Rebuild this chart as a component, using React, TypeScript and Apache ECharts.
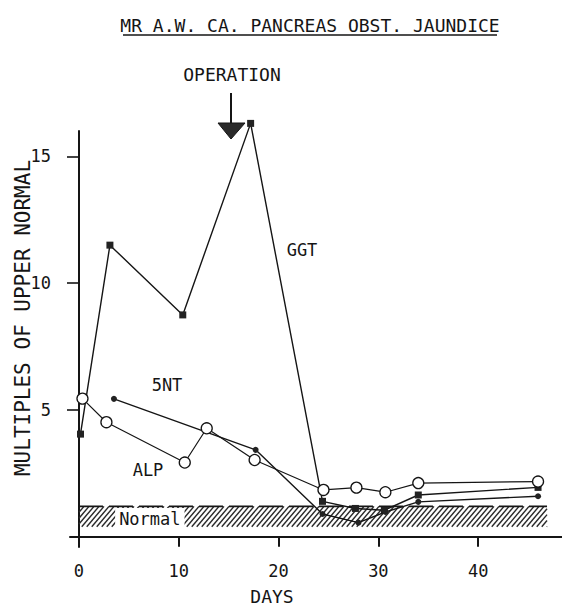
import React, { useEffect, useRef } from 'react';
import * as echarts from 'echarts';

// ---- data ----
const ggtDays = [0.15, 3.1, 10.4, 17.2, 24.4, 27.7, 30.6, 34.0, 46.0];
const ggtValues = [4.05, 11.5, 8.75, 16.3, 1.4, 1.12, 1.05, 1.65, 1.95];

const alpDays = [0.35, 2.75, 10.6, 12.8, 17.6, 24.5, 27.8, 30.7, 34.0, 46.0];
const alpValues = [5.45, 4.52, 2.93, 4.28, 3.03, 1.85, 1.94, 1.76, 2.12, 2.18];

const ntDays = [3.5, 17.7, 24.4, 28.0, 30.7, 34.0, 46.0];
const ntValues = [5.44, 3.43, 0.9, 0.56, 0.98, 1.38, 1.6];

const normalBand = [0, 46.9, 0.4, 1.2]; // day from, day to, low, high

const xTicks = [0, 10, 20, 30, 40];
const yTicks = [5, 10, 15];

const FONT = '"DejaVu Sans Mono", "Liberation Mono", monospace';
const INK = '#151515';

export default function App() {
  const ref = useRef<HTMLDivElement>(null);

  useEffect(() => {
    document.body.style.margin = '0';
    const chart = echarts.init(ref.current as HTMLDivElement, null, { renderer: 'svg' });

    const pairs = (xs: number[], ys: number[]) => xs.map((x, i) => [x, ys[i]]);

    chart.setOption({
      animation: false,
      backgroundColor: '#ffffff',
      grid: { left: 70, right: 0, top: 131, bottom: 59, containLabel: false },
      xAxis: {
        type: 'value',
        min: -0.9,
        max: 48.4,
        splitLine: { show: false },
        axisLine: { onZero: true, lineStyle: { color: INK, width: 2 } },
        axisTick: { customValues: xTicks, length: 10, lineStyle: { color: INK, width: 2 } },
        axisLabel: { customValues: xTicks, margin: 15, fontSize: 17, color: INK, fontFamily: FONT },
      },
      yAxis: {
        type: 'value',
        min: -0.4,
        max: 16,
        splitLine: { show: false },
        axisLine: { show: true, onZero: true, lineStyle: { color: INK, width: 2 } },
        axisTick: { show: true, customValues: yTicks, length: 12, lineStyle: { color: INK, width: 1.6 } },
        axisLabel: { customValues: yTicks, margin: 19, fontSize: 17, color: INK, fontFamily: FONT },
      },
      series: [
        {
          type: 'custom',
          silent: true,
          z: 1,
          encode: { x: [0, 1], y: [2, 3] },
          data: [normalBand],
          renderItem: (params: any, api: any) => {
            const p0 = api.coord([api.value(0), api.value(2)]);
            const p1 = api.coord([api.value(1), api.value(3)]);
            const x0 = p0[0], yb = p0[1], x1 = p1[0], yt = p1[1];
            const h = yb - yt;
            const dx = h * 0.85;
            const children: any[] = [];
            for (let s = x0 - dx; s < x1; s += 5) {
              let ax = s, ay = yb, bx = s + dx, by = yt;
              if (ax < x0) { ay = yb - (x0 - s) * (h / dx); ax = x0; }
              if (bx > x1) { by = yb - (x1 - s) * (h / dx); bx = x1; }
              if (bx > ax) {
                children.push({
                  type: 'line',
                  shape: { x1: ax, y1: ay, x2: bx, y2: by },
                  style: { stroke: '#2a2a2a', lineWidth: 1.4 },
                });
              }
            }
            children.push({
              type: 'line',
              shape: { x1: x0, y1: yt, x2: x1, y2: yt },
              style: { stroke: INK, lineWidth: 1.8, lineDash: [24, 6] },
            });
            const lp = api.coord([7.1, (api.value(2) + api.value(3)) / 2]);
            children.push({
              type: 'text',
              x: lp[0],
              y: lp[1] + 2,
              style: {
                text: 'Normal',
                fill: INK,
                font: `17px ${FONT}`,
                align: 'center',
                verticalAlign: 'middle',
                backgroundColor: '#ffffff',
                padding: [2, 4, 2, 4],
              },
            });
            return { type: 'group', children };
          },
        },
        {
          name: 'GGT',
          type: 'line',
          data: pairs(ggtDays, ggtValues),
          clip: false,
          symbol: 'rect',
          symbolSize: 7,
          z: 3,
          lineStyle: { color: INK, width: 1.4 },
          itemStyle: { color: '#222' },
          emphasis: { disabled: true },
        },
        {
          name: '5NT',
          type: 'line',
          data: pairs(ntDays, ntValues),
          symbol: 'circle',
          symbolSize: 6,
          z: 4,
          lineStyle: { color: INK, width: 1.4 },
          itemStyle: { color: '#222' },
          emphasis: { disabled: true },
        },
        {
          name: 'ALP',
          type: 'line',
          data: pairs(alpDays, alpValues),
          symbol: 'circle',
          symbolSize: 11,
          z: 5,
          lineStyle: { color: INK, width: 1.2 },
          itemStyle: { color: '#ffffff', borderColor: INK, borderWidth: 1.3 },
          emphasis: { disabled: true },
        },
      ],
      graphic: [
        {
          type: 'text',
          x: 310,
          y: 25,
          style: { text: 'MR A.W. CA. PANCREAS OBST. JAUNDICE', fill: INK, font: `18px ${FONT}`, align: 'center', verticalAlign: 'middle' },
        },
        { type: 'line', shape: { x1: 123, y1: 35, x2: 497, y2: 35 }, style: { stroke: INK, lineWidth: 1.6 } },
        {
          type: 'text',
          x: 232,
          y: 74,
          style: { text: 'OPERATION', fill: INK, font: `18px ${FONT}`, align: 'center', verticalAlign: 'middle' },
        },
        { type: 'line', shape: { x1: 231, y1: 93, x2: 231, y2: 124 }, style: { stroke: INK, lineWidth: 2 } },
        { type: 'polygon', shape: { points: [[218, 123], [245, 123], [231, 139]] }, style: { fill: '#2a2a2a', stroke: INK, lineWidth: 1 } },
        {
          type: 'text',
          x: 302,
          y: 250,
          style: { text: 'GGT', fill: INK, font: `17px ${FONT}`, align: 'center', verticalAlign: 'middle' },
        },
        {
          type: 'text',
          x: 167,
          y: 385,
          style: { text: '5NT', fill: INK, font: `17px ${FONT}`, align: 'center', verticalAlign: 'middle' },
        },
        {
          type: 'text',
          x: 148,
          y: 470,
          style: { text: 'ALP', fill: INK, font: `17px ${FONT}`, align: 'center', verticalAlign: 'middle' },
        },
        {
          type: 'text',
          x: 272,
          y: 596,
          style: { text: 'DAYS', fill: INK, font: `18px ${FONT}`, align: 'center', verticalAlign: 'middle' },
        },
        {
          type: 'text',
          x: 23,
          y: 318,
          rotation: Math.PI / 2,
          style: { text: 'MULTIPLES OF UPPER NORMAL', fill: INK, font: `21px ${FONT}`, align: 'center', verticalAlign: 'middle' },
        },
      ],
    });

    return () => chart.dispose();
  }, []);

  return <div ref={ref} style={{ width: 562, height: 606 }} />;
}
